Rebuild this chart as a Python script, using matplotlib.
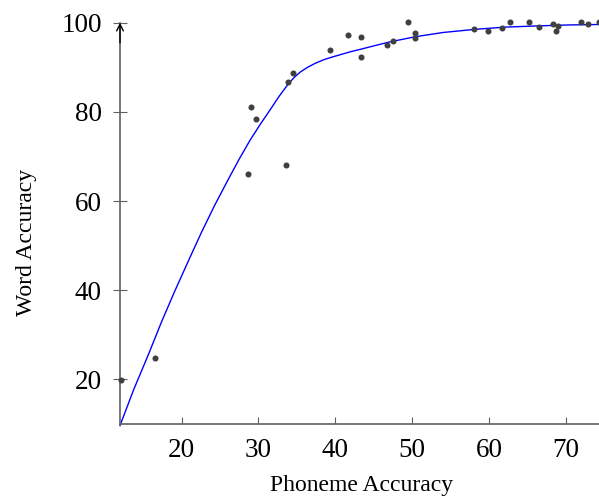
import matplotlib
matplotlib.use("Agg")
import matplotlib.pyplot as plt

# Scatter data (Phoneme accuracy vs Word accuracy)
phoneme_acc = [12.1, 16.55, 28.6, 29.0, 29.65, 33.6, 33.9, 34.45, 39.3, 41.6,
               43.4, 43.4, 46.7, 47.5, 49.45, 50.4, 50.35, 58.1, 59.85, 61.7,
               62.7, 65.2, 66.5, 68.3, 69.0, 68.7, 72.0, 72.9, 74.3]
word_acc = [19.85, 24.7, 66.0, 81.1, 78.3, 68.1, 86.7, 88.7, 93.8, 97.3,
            96.85, 92.3, 95.05, 95.95, 100.1, 97.8, 96.5, 98.6, 98.1, 98.9,
            100.1, 100.1, 98.95, 99.6, 99.2, 98.2, 100.1, 99.6, 100.1]

# Fitted curve
curve_x = [12.0, 13.8, 15.7, 17.4, 19.15, 20.9, 22.6, 24.3, 26.0, 27.5, 28.9,
           30.2, 31.5, 32.7, 33.9, 34.7, 35.5, 36.4, 37.4, 38.5, 39.6, 40.8,
           42.0, 43.2, 45.0, 47.1, 50.4, 54.0, 58.1, 62.0, 66.6, 70.5, 74.3]
curve_y = [9.65, 17.8, 25.6, 32.9, 39.9, 46.6, 53.0, 59.0, 64.6, 69.4, 73.6,
           77.1, 80.4, 83.5, 86.3, 87.8, 89.0, 90.0, 90.9, 91.7, 92.3, 92.9,
           93.5, 94.0, 94.8, 95.7, 96.85, 97.8, 98.5, 99.0, 99.3, 99.5, 99.6]

x_ticks = [20, 30, 40, 50, 60, 70]
y_ticks = [20, 40, 60, 80, 100]

plt.rcParams['font.family'] = ['Liberation Serif', 'DejaVu Serif']
plt.rcParams['mathtext.fontset'] = 'stix'

W, H = 599, 498
fig = plt.figure(figsize=(W / 100, H / 100), dpi=100)
left, right, bottom, top = 120, 599, 424, 22.7
ax = fig.add_axes([left / W, 1 - bottom / H, (right - left) / W, (bottom - top) / H])

axis_col = '#606060'
ax.set_xlim(12, 74.3)
ax.set_ylim(10, 100)

ax.plot(curve_x, curve_y, color='blue', lw=1.0, zorder=2, clip_on=False,
        solid_joinstyle='round')
ax.scatter(phoneme_acc, word_acc, s=19, color='#404040', zorder=3, linewidths=0,
           clip_on=False)

for s in ['top', 'right']:
    ax.spines[s].set_visible(False)
for s in ['left', 'bottom']:
    ax.spines[s].set_color(axis_col)
    ax.spines[s].set_linewidth(1.2)

ax.set_xticks(x_ticks)
ax.set_yticks(y_ticks)
ax.tick_params(axis='x', direction='in', length=5, width=0.8, color=axis_col,
               labelsize=19.5, pad=10)
ax.tick_params(axis='y', direction='inout', length=10, width=0.8, color=axis_col,
               labelsize=19.5, pad=8)

# arrow at top of y axis
ax.annotate('', xy=(0, 1.0), xycoords='axes fraction', xytext=(0, 0.95),
            textcoords='axes fraction',
            arrowprops=dict(arrowstyle='->', color='black', lw=1.0,
                            shrinkA=0, shrinkB=0, mutation_scale=12))

fig.text(362 / W, 1 - 485 / H, 'Phoneme Accuracy', ha='center', va='center',
         fontsize=17)
fig.text(27 / W, 1 - 242 / H, 'Word Accuracy', ha='center', va='center',
         rotation=90, fontsize=17)

fig.savefig('out.png', dpi=100)
